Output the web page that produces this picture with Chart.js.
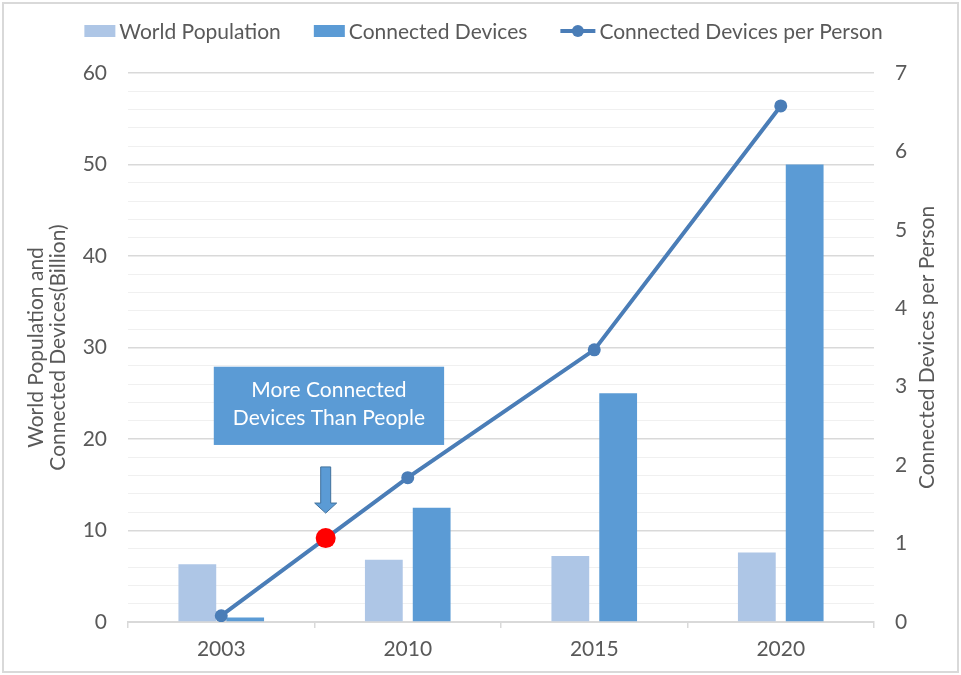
<!DOCTYPE html>
<html>
<head>
<meta charset="utf-8">
<script src="https://cdn.jsdelivr.net/npm/chart.js@4.4.0/dist/chart.umd.min.js"></script>
<style>
    html, body { margin: 0; padding: 0; background: #fff; }
</style>
</head>
<body>
<canvas id="devices-chart" width="961" height="675"></canvas>
<script>
// data
const years = ["2003", "2010", "2015", "2020"];
const worldPopulation = [6.3, 6.8, 7.2, 7.6];
const connectedDevices = [0.5, 12.5, 25, 50];
const devicesPerPerson = [0.08, 1.84, 3.47, 6.58];
// crossover point (x in category index units, y in devices per person)
const crossoverX = [0.56];
const crossoverY = [1.07];
const leftTickLabels = [0, 10, 20, 30, 40, 50, 60];
const rightTickLabels = [0, 1, 2, 3, 4, 5, 6, 7];

const FONT = "Lato";
const FONT_PX = 21;
const TEXT = "#595959";
const LIGHT_BLUE = "#AEC6E6";
const BLUE = "#5B9BD5";
const LINE_BLUE = "#4A7DB7";

// white background + thin frame round the whole chart
const frame = {
    id: "frame",
    beforeDraw(chart) {
        const ctx = chart.ctx;
        ctx.save();
        ctx.fillStyle = "#fff";
        ctx.fillRect(0, 0, chart.width, chart.height);
        ctx.strokeStyle = "#d9d9d9";
        ctx.lineWidth = 2;
        ctx.strokeRect(3, 3, chart.width - 6, chart.height - 6);
        ctx.restore();
    },
};

// legend across the top, drawn by hand so the line entry gets its dot
const topLegend = {
    id: "topLegend",
    afterDraw(chart) {
        const ctx = chart.ctx;
        const sets = chart.data.datasets.filter((d) => d.label);
        ctx.save();
        ctx.font = `${FONT_PX}px ${FONT}`;
        const items = sets.map((d) => {
            const mark = d.type === "line" ? 35 : 31;
            return { d, mark, w: mark + 4 + ctx.measureText(d.label).width };
        });
        const gap = 33;
        const total = items.reduce((s, it) => s + it.w, 0) + gap * (items.length - 1);
        let x = chart.width / 2 + 3 - total / 2;
        const y = 31;
        items.forEach((it) => {
            if (it.d.type === "line") {
                ctx.strokeStyle = it.d.borderColor;
                ctx.lineWidth = 4;
                ctx.beginPath();
                ctx.moveTo(x, y);
                ctx.lineTo(x + it.mark, y);
                ctx.stroke();
                ctx.fillStyle = it.d.borderColor;
                ctx.beginPath();
                ctx.arc(x + it.mark / 2, y, 6, 0, Math.PI * 2);
                ctx.fill();
            } else {
                ctx.fillStyle = it.d.backgroundColor;
                ctx.fillRect(x, y - 6, it.mark, 12);
            }
            ctx.fillStyle = TEXT;
            ctx.textAlign = "left";
            ctx.textBaseline = "middle";
            ctx.fillText(it.d.label, x + it.mark + 4, y + 1);
            x += it.w + gap;
        });
        ctx.restore();
    },
};

// right axis title reads bottom-to-top like the left one
const rightTitle = {
    id: "rightTitle",
    afterDraw(chart) {
        const ctx = chart.ctx;
        const area = chart.chartArea;
        ctx.save();
        ctx.translate(927, (area.top + area.bottom) / 2);
        ctx.rotate(-Math.PI / 2);
        ctx.font = `${FONT_PX}px ${FONT}`;
        ctx.fillStyle = TEXT;
        ctx.textAlign = "center";
        ctx.textBaseline = "middle";
        ctx.fillText("Connected Devices per Person", 0, 0);
        ctx.restore();
    },
};

// callout box + down arrow pointing at the crossover point
const callout = {
    id: "callout",
    afterDatasetsDraw(chart) {
        const ctx = chart.ctx;
        const xs = chart.scales.x;
        const ys = chart.scales.y;
        const l = xs.getPixelForValue(-0.04);
        const r = xs.getPixelForValue(1.195);
        const t = ys.getPixelForValue(27.9);
        const b = ys.getPixelForValue(19.35);
        ctx.save();
        ctx.fillStyle = BLUE;
        ctx.fillRect(l, t, r - l, b - t);
        ctx.fillStyle = "#fff";
        ctx.font = `${FONT_PX}px ${FONT}`;
        ctx.textAlign = "center";
        ctx.textBaseline = "middle";
        const cx = (l + r) / 2;
        const cy = (t + b) / 2;
        ctx.fillText("More Connected", cx, cy - 16);
        ctx.fillText("Devices Than People", cx, cy + 12);

        // arrow
        const ax = xs.getPixelForValue(crossoverX[0]);
        const top = ys.getPixelForValue(16.95);
        const neck = ys.getPixelForValue(13.0);
        const tip = ys.getPixelForValue(11.9);
        ctx.beginPath();
        ctx.moveTo(ax - 5, top);
        ctx.lineTo(ax + 5, top);
        ctx.lineTo(ax + 5, neck);
        ctx.lineTo(ax + 11, neck);
        ctx.lineTo(ax, tip);
        ctx.lineTo(ax - 11, neck);
        ctx.lineTo(ax - 5, neck);
        ctx.closePath();
        ctx.fillStyle = BLUE;
        ctx.fill();
        ctx.strokeStyle = "#41719C";
        ctx.lineWidth = 1;
        ctx.stroke();
        ctx.restore();
    },
};

const tickFont = { family: FONT, size: FONT_PX };

new Chart(document.getElementById("devices-chart"), {
    type: "bar",
    data: {
        labels: years,
        datasets: [
            {
                label: "World Population",
                data: worldPopulation,
                backgroundColor: LIGHT_BLUE,
                yAxisID: "y",
                order: 2,
                barPercentage: 0.79,
                categoryPercentage: 0.513,
            },
            {
                label: "Connected Devices",
                data: connectedDevices,
                backgroundColor: BLUE,
                yAxisID: "y",
                order: 2,
                barPercentage: 0.79,
                categoryPercentage: 0.513,
            },
            {
                type: "line",
                label: "Connected Devices per Person",
                data: devicesPerPerson,
                borderColor: LINE_BLUE,
                backgroundColor: LINE_BLUE,
                borderWidth: 4,
                pointRadius: 6.5,
                pointBorderWidth: 0,
                pointBackgroundColor: LINE_BLUE,
                tension: 0,
                yAxisID: "yRight",
                order: 1,
            },
            {
                // red marker where devices overtake people; raw index values
                // on the category axis so it can sit between two years
                type: "scatter",
                parsing: false,
                data: crossoverX.map((x, i) => ({ x, y: crossoverY[i] })),
                yAxisID: "yRight",
                backgroundColor: "#FF0000",
                pointRadius: 10,
                pointBorderWidth: 0,
                order: 0,
            },
        ],
    },
    options: {
        responsive: false,
        animation: false,
        layout: { padding: { top: 73, left: 8, right: 8, bottom: 8 } },
        plugins: {
            legend: { display: false },
            tooltip: { enabled: false },
        },
        scales: {
            x: {
                type: "category",
                offset: true,
                grid: {
                    offset: true,
                    drawOnChartArea: false,
                    drawTicks: true,
                    tickLength: 6,
                    color: "#d9d9d9",
                    lineWidth: 1.5,
                },
                border: { display: true, color: "#d9d9d9", width: 2 },
                ticks: { font: tickFont, color: TEXT, padding: 9 },
                afterFit: (scale) => { scale.height = 45; },
            },
            y: {
                position: "left",
                min: 0,
                max: 60,
                border: { display: false },
                grid: {
                    drawTicks: false,
                    color: (c) => (c.tick && c.tick.value % 10 === 0 ? "#d9d9d9" : "#f0f0f0"),
                    lineWidth: (c) => (c.tick && c.tick.value % 10 === 0 ? 1.5 : 1),
                },
                ticks: {
                    stepSize: 2,
                    autoSkip: false,
                    font: tickFont,
                    color: TEXT,
                    padding: 21,
                    callback: (v) => (leftTickLabels.includes(v) ? v : ""),
                },
                title: {
                    display: true,
                    text: ["World Population and", "Connected Devices(Billion)"],
                    font: { family: FONT, size: FONT_PX, lineHeight: 1.05 },
                    color: TEXT,
                    padding: { top: 17, bottom: 0 },
                },
                afterFit: (scale) => { scale.width = 120; },
            },
            yRight: {
                position: "right",
                min: 0,
                max: 7,
                border: { display: false },
                grid: { drawOnChartArea: false, drawTicks: false },
                ticks: {
                    stepSize: 1,
                    font: tickFont,
                    color: TEXT,
                    padding: 21,
                    callback: (v) => (rightTickLabels.includes(v) ? v : ""),
                },
                afterFit: (scale) => { scale.width = 79; },
            },
        },
    },
    plugins: [frame, topLegend, rightTitle, callout],
});
</script>
</body>
</html>
